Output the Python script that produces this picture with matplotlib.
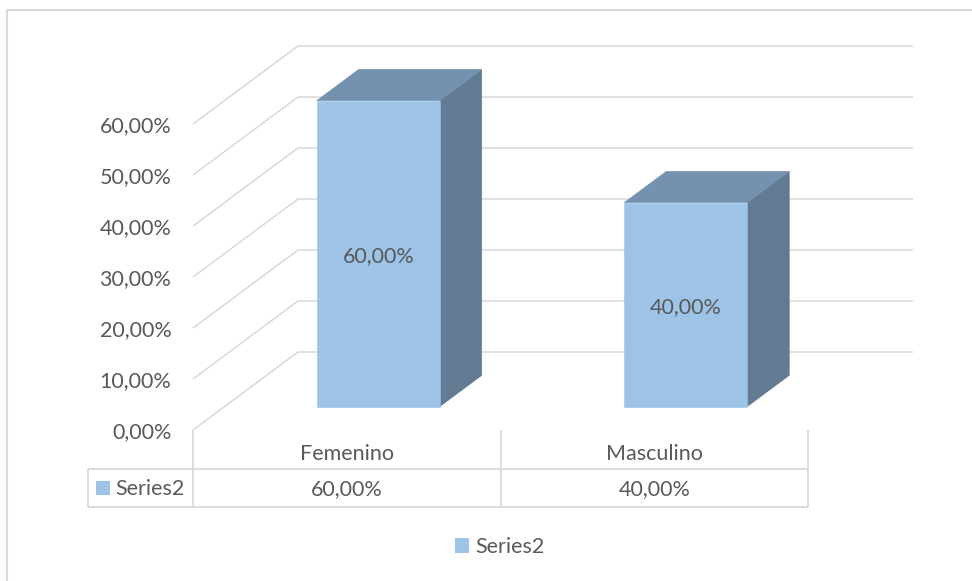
import matplotlib
matplotlib.use("Agg")
import matplotlib.pyplot as plt
from matplotlib.patches import Polygon, Rectangle
from matplotlib.lines import Line2D

# Data
categories = ["Femenino", "Masculino"]
values = [0.60, 0.40]
series_name = "Series2"
ticks = [0.0, 0.1, 0.2, 0.3, 0.4, 0.5, 0.6]


def pct(v):
    return f"{v * 100:.2f}".replace(".", ",") + "%"


plt.rcParams["font.family"] = ["Lato", "DejaVu Sans"]
TXT = "#595959"
GRID = "#D9D9D9"
FRONT = "#9DC3E6"
TOP = "#7591B0"
SIDE = "#637A93"
FS = 15.5

W, H, DPI = 972, 581, 100
fig = plt.figure(figsize=(W / DPI, H / DPI), dpi=DPI)
ax = fig.add_axes([0, 0, 1, 1])
ax.set_axis_off()

# Mapping: one category slot = 307.5 px, 1.0 value = 510 px, origin at px (193, 430)
PX_CAT, PX_VAL, X0, Y0 = 307.5, 510.0, 193.0, 430.0
ax.set_xlim(-0.5 - X0 / PX_CAT, -0.5 + (W - X0) / PX_CAT)
ax.set_ylim((Y0 - H) / PX_VAL, Y0 / PX_VAL)
NUDGE = 2.5 / PX_VAL  # small downward shift so text centres sit on their rows

# Oblique depth vector (full depth of the plot box)
DX, DY = 105 / PX_CAT, 78 / PX_VAL
xl, xr = -0.5, len(categories) - 0.5

# Left wall and back wall gridlines
for t in ticks:
    ax.plot([xl, xl + DX, xr + DX], [t, t + DY, t + DY], color=GRID, lw=1.1,
            solid_capstyle="butt", zorder=1)
    ax.text(xl - 0.07, t - NUDGE, pct(t), ha="right", va="center", fontsize=FS, color=TXT)

# 3D bars
d0, d1, bw = 0.3, 0.7, 0.4
for i, v in enumerate(values):
    a, b = i - bw / 2, i + bw / 2
    front = [(a + d0 * DX, d0 * DY), (b + d0 * DX, d0 * DY),
             (b + d0 * DX, v + d0 * DY), (a + d0 * DX, v + d0 * DY)]
    top = [(a + d0 * DX, v + d0 * DY), (b + d0 * DX, v + d0 * DY),
           (b + d1 * DX, v + d1 * DY), (a + d1 * DX, v + d1 * DY)]
    side = [(b + d0 * DX, d0 * DY), (b + d1 * DX, d1 * DY),
            (b + d1 * DX, v + d1 * DY), (b + d0 * DX, v + d0 * DY)]
    for poly, col in ((side, SIDE), (top, TOP), (front, FRONT)):
        ax.add_patch(Polygon(poly, closed=True, facecolor=col, edgecolor=col,
                             lw=0.4, zorder=3))
    ax.text(i + d0 * DX, v / 2 + d0 * DY - NUDGE, pct(v), ha="center", va="center",
            fontsize=FS, color=TXT, zorder=4)

# Data table below the plot
r1 = (Y0 - 469) / PX_VAL
r2 = (Y0 - 507) / PX_VAL
tl = -0.5 - 105 / PX_CAT
tk = dict(color=GRID, lw=1.3, solid_capstyle="butt", zorder=1)
ax.plot([tl, xr], [r1, r1], **tk)
ax.plot([tl, xr], [r2, r2], **tk)
ax.plot([tl, tl], [r1, r2], **tk)
for xb in range(len(categories) + 1):
    ax.plot([xb - 0.5, xb - 0.5], [0, r2], **tk)
for i, (c, v) in enumerate(zip(categories, values)):
    ax.text(i, r1 / 2 - 2 * NUDGE, c, ha="center", va="center", fontsize=FS, color=TXT)
    ax.text(i, (r1 + r2) / 2 - NUDGE / 2, pct(v), ha="center", va="center",
            fontsize=FS, color=TXT)
ks = 14 / PX_CAT
ax.add_patch(Rectangle((tl + 8 / PX_CAT, (r1 + r2) / 2 - 7 / PX_VAL), ks, 14 / PX_VAL,
                       facecolor=FRONT, edgecolor="none"))
ax.text(tl + 27 / PX_CAT, (r1 + r2) / 2 - NUDGE / 2, series_name, ha="left", va="center",
        fontsize=FS, color=TXT)

# Legend
handle = Rectangle((0, 0), 1, 1, facecolor=FRONT, edgecolor="none")
fig.legend([handle], [series_name], loc="center", bbox_to_anchor=(500 / W, 1 - 547 / H),
           frameon=False, fontsize=FS, handlelength=0.65, handleheight=0.65,
           handletextpad=0.3, labelcolor=TXT)

# Chart-area border (top and left edges)
fig.add_artist(Line2D([7 / W, 7 / W], [0, 1 - 10 / H], color=GRID, lw=1.5))
fig.add_artist(Line2D([7 / W, 1], [1 - 10 / H, 1 - 10 / H], color=GRID, lw=1.5))

fig.savefig("out.png", dpi=DPI, facecolor="white")
